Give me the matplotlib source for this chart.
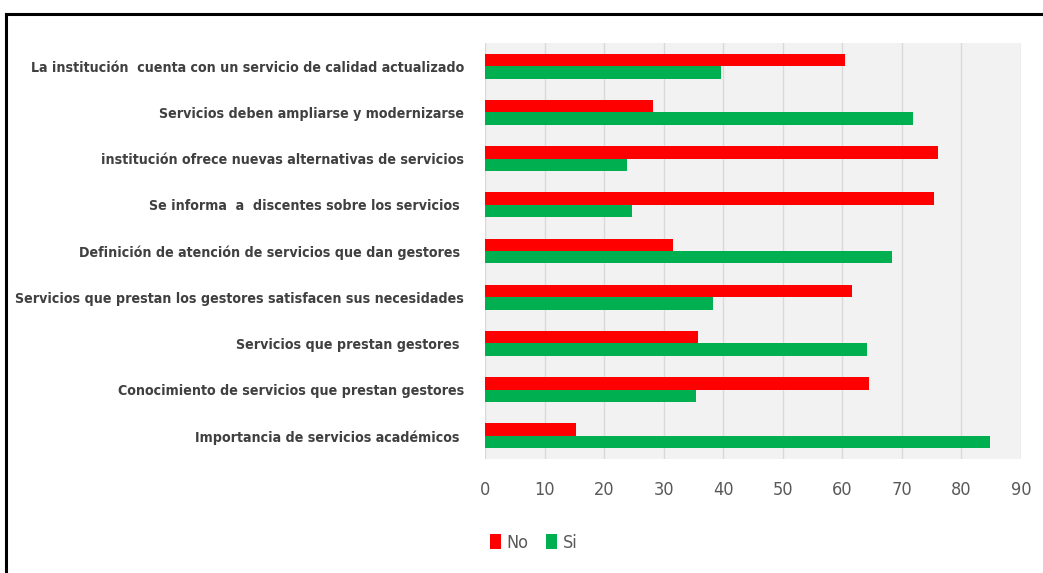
import matplotlib
matplotlib.use("Agg")
import matplotlib.pyplot as plt
import numpy as np
from matplotlib.lines import Line2D
from matplotlib import font_manager

categories = [
    "La institución  cuenta con un servicio de calidad actualizado",
    "Servicios deben ampliarse y modernizarse",
    "institución ofrece nuevas alternativas de servicios",
    "Se informa  a  discentes sobre los servicios ",
    "Definición de atención de servicios que dan gestores ",
    "Servicios que prestan los gestores satisfacen sus necesidades",
    "Servicios que prestan gestores ",
    "Conocimiento de servicios que prestan gestores",
    "Importancia de servicios académicos ",
]
no_values = [60.4, 28.2, 76.1, 75.4, 31.6, 61.7, 35.8, 64.5, 15.2]
si_values = [39.6, 71.8, 23.9, 24.6, 68.4, 38.3, 64.2, 35.5, 84.8]
xticks = [0, 10, 20, 30, 40, 50, 60, 70, 80, 90]

cond = [f for f in font_manager.fontManager.ttflist if "Condensed" in f.fname and "DejaVuSans" in f.fname]
bold_c = [f.fname for f in cond if "Bold" in f.fname and "Oblique" not in f.fname]
reg_c = [f.fname for f in cond if "Bold" not in f.fname and "Oblique" not in f.fname]
if bold_c:
    label_fp = font_manager.FontProperties(fname=bold_c[0], size=10.2)
else:
    label_fp = font_manager.FontProperties(family="DejaVu Sans", weight="bold", size=9.3)
if reg_c:
    tick_fp = font_manager.FontProperties(fname=reg_c[0], size=13)
    leg_fp = font_manager.FontProperties(fname=reg_c[0], size=13)
else:
    tick_fp = font_manager.FontProperties(family="DejaVu Sans", size=12)
    leg_fp = font_manager.FontProperties(family="DejaVu Sans", size=12)

W, H = 1043, 573
fig = plt.figure(figsize=(W / 100, H / 100), dpi=100)
ax = fig.add_axes([485 / W, 1 - 459 / H, (1021 - 485) / W, (459 - 43) / H])
ax.set_facecolor("#F2F2F2")

n = len(categories)
y = np.arange(n)[::-1]
h = 0.27
ax.barh(y + h / 2, no_values, height=h, color="#FF0000", label="No", zorder=3)
ax.barh(y - h / 2, si_values, height=h, color="#00B050", label="Si", zorder=3)

ax.set_xlim(0, 90)
ax.set_ylim(-0.5, n - 0.5)
ax.set_xticks(xticks)
ax.set_xticklabels([str(v) for v in xticks], color="#595959", fontproperties=tick_fp)
ax.set_yticks(y)
ax.set_yticklabels(categories, color="#404040", fontproperties=label_fp)
ax.tick_params(axis="x", length=0, pad=16)
ax.tick_params(axis="y", length=0, pad=15)
ax.grid(axis="x", color="#D9D9D9", linewidth=1, zorder=0)
for s in ax.spines.values():
    s.set_visible(False)

fig.legend(loc="center left", bbox_to_anchor=(490 / W, 1 - 543 / H), ncol=2, frameon=False,
           borderaxespad=0, borderpad=0,
           handlelength=0.6, handleheight=0.9, handletextpad=0.3, columnspacing=1.0,
           prop=leg_fp, labelcolor="#595959")

fig.add_artist(Line2D([6 / W, 1.0], [1 - 14 / H, 1 - 14 / H], color="black", linewidth=2.2))
fig.add_artist(Line2D([6 / W, 6 / W], [0, 1 - 14 / H], color="black", linewidth=2.2))

fig.savefig("out.png", dpi=100)
